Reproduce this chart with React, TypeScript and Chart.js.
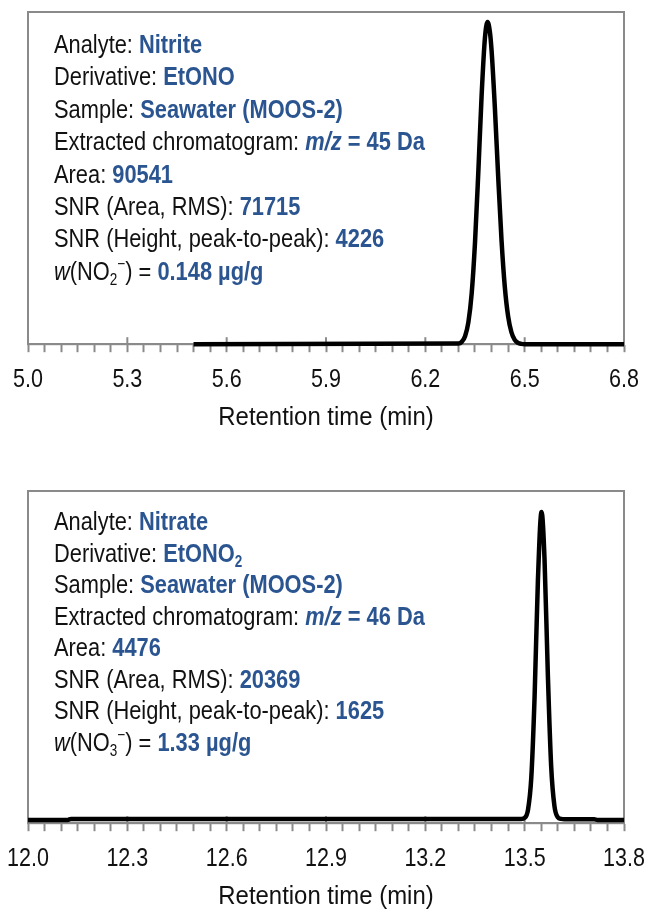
import React, { useEffect, useRef } from 'react';
import { Chart, registerables } from 'chart.js';

Chart.register(...registerables);

const FONT_FAMILY = '"Liberation Sans", Arial, sans-serif';
const GRAY = '#8a8a8a';
const BLUE = '#2b5591';
const INK = '#111111';

// ---- Top panel: nitrite (EtONO, m/z 45) ----
const TOP_TIME = [5.5, 6.3, 6.31, 6.32, 6.33, 6.34, 6.35, 6.36, 6.37, 6.38, 6.388, 6.395, 6.4, 6.41, 6.42, 6.43, 6.44, 6.45, 6.46, 6.47, 6.48, 6.49, 6.5, 6.8];
const TOP_SIGNAL = [0, 0.2, 0.7, 2.4, 6.6, 15.3, 30.6, 51.8, 74.9, 92.2, 97.0, 94.0, 88.5, 71.2, 50.5, 31.5, 17.3, 8.4, 3.6, 1.3, 0.4, 0.1, 0, 0];
const TOP_X_RANGE = [5.0, 6.8];
const TOP_TICK_LABELS = ['5.0', '5.3', '5.6', '5.9', '6.2', '6.5', '6.8'];

// ---- Bottom panel: nitrate (EtONO2, m/z 46) ----
const BOTTOM_TIME = [12.0, 12.12, 12.13, 13.49, 13.5, 13.51, 13.52, 13.53, 13.54, 13.551, 13.56, 13.57, 13.58, 13.59, 13.6, 13.61, 13.62, 13.71, 13.72, 13.8];
const BOTTOM_SIGNAL = [1.0, 1.0, 1.3, 1.3, 1.6, 4.0, 13.7, 38.1, 73.1, 93.7, 79.4, 44.8, 17.2, 5.1, 1.8, 1.3, 1.2, 1.2, 1.0, 1.0];
const BOTTOM_X_RANGE = [12.0, 13.8];
const BOTTOM_TICK_LABELS = ['12.0', '12.3', '12.6', '12.9', '13.2', '13.5', '13.8'];

const MINOR_PER_MAJOR = 6; // minor step 0.05 min, major step 0.3 min
const AXIS_TITLE = 'Retention time (min)';

type Seg = { t: string; blue?: boolean; bold?: boolean; italic?: boolean; sub?: boolean; sup?: boolean };

const TOP_NOTES: Seg[][] = [
  [{ t: 'Analyte: ' }, { t: 'Nitrite', blue: true, bold: true }],
  [{ t: 'Derivative: ' }, { t: 'EtONO', blue: true, bold: true }],
  [{ t: 'Sample: ' }, { t: 'Seawater (MOOS-2)', blue: true, bold: true }],
  [{ t: 'Extracted chromatogram: ' }, { t: 'm/z', blue: true, bold: true, italic: true }, { t: ' = 45 Da', blue: true, bold: true }],
  [{ t: 'Area: ' }, { t: '90541', blue: true, bold: true }],
  [{ t: 'SNR (Area, RMS): ' }, { t: '71715', blue: true, bold: true }],
  [{ t: 'SNR (Height, peak-to-peak): ' }, { t: '4226', blue: true, bold: true }],
  [{ t: 'w', italic: true }, { t: '(NO' }, { t: '2', sub: true }, { t: '\u2212', sup: true }, { t: ') = ' }, { t: '0.148 \u00b5g/g', blue: true, bold: true }],
];

const BOTTOM_NOTES: Seg[][] = [
  [{ t: 'Analyte: ' }, { t: 'Nitrate', blue: true, bold: true }],
  [{ t: 'Derivative: ' }, { t: 'EtONO', blue: true, bold: true }, { t: '2', blue: true, bold: true, sub: true }],
  [{ t: 'Sample: ' }, { t: 'Seawater (MOOS-2)', blue: true, bold: true }],
  [{ t: 'Extracted chromatogram: ' }, { t: 'm/z', blue: true, bold: true, italic: true }, { t: ' = 46 Da', blue: true, bold: true }],
  [{ t: 'Area: ' }, { t: '4476', blue: true, bold: true }],
  [{ t: 'SNR (Area, RMS): ' }, { t: '20369', blue: true, bold: true }],
  [{ t: 'SNR (Height, peak-to-peak): ' }, { t: '1625', blue: true, bold: true }],
  [{ t: 'w', italic: true }, { t: '(NO' }, { t: '3', sub: true }, { t: '\u2212', sup: true }, { t: ') = ' }, { t: '1.33 \u00b5g/g', blue: true, bold: true }],
];

const NOTE_SIZE = 26;
const NOTE_SQUEEZE = 0.84;
const TICK_SIZE = 25;
const TICK_SQUEEZE = 0.86;
const TITLE_SIZE = 26;
const TITLE_SQUEEZE = 0.92;

function squeezedText(ctx: CanvasRenderingContext2D, text: string, x: number, y: number, sx: number) {
  ctx.save();
  ctx.translate(x, y);
  ctx.scale(sx, 1);
  ctx.fillText(text, 0, 0);
  ctx.restore();
}

function drawNotes(ctx: CanvasRenderingContext2D, x0: number, y0: number, step: number, lines: Seg[][]) {
  ctx.save();
  ctx.textBaseline = 'alphabetic';
  ctx.textAlign = 'left';
  lines.forEach((segs, li) => {
    let x = x0;
    const y = y0 + li * step;
    segs.forEach((s) => {
      const small = s.sub || s.sup;
      const sz = small ? NOTE_SIZE * 0.62 : NOTE_SIZE;
      ctx.font = `${s.italic ? 'italic ' : ''}${s.bold ? 'bold ' : ''}${sz}px ${FONT_FAMILY}`;
      ctx.fillStyle = s.blue ? BLUE : INK;
      const dy = s.sub ? NOTE_SIZE * 0.2 : s.sup ? -NOTE_SIZE * 0.42 : 0;
      const w = ctx.measureText(s.t).width * NOTE_SQUEEZE;
      squeezedText(ctx, s.t, x, y + dy, NOTE_SQUEEZE);
      x += w;
    });
  });
  ctx.restore();
}

function makeChart(
  canvas: HTMLCanvasElement,
  time: number[],
  signal: number[],
  range: number[],
  tickLabels: string[],
  notes: Seg[][],
  padding: { left: number; right: number; top: number; bottom: number },
  noteOffset: number,
  noteStep: number
) {
  const nTicks = (tickLabels.length - 1) * MINOR_PER_MAJOR + 1;
  const minorStep = (range[1] - range[0]) / (nTicks - 1);

  const overlay = {
    id: 'frameAndNotes',
    beforeDatasetsDraw(chart: any) {
      const { ctx, chartArea: a } = chart;
      ctx.save();
      ctx.strokeStyle = GRAY;
      ctx.lineWidth = 2;
      ctx.strokeRect(a.left, a.top, a.right - a.left, a.bottom - a.top);
      const xs = chart.scales.x;
      xs.ticks.forEach((t: any, i: number) => {
        if (i % MINOR_PER_MAJOR === 0) {
          const px = xs.getPixelForValue(t.value);
          ctx.beginPath();
          ctx.moveTo(px, a.bottom);
          ctx.lineTo(px, a.bottom - 7);
          ctx.stroke();
        }
      });
      ctx.restore();
    },
    afterDraw(chart: any) {
      const { ctx, chartArea: a } = chart;
      const xs = chart.scales.x;
      ctx.save();
      ctx.fillStyle = INK;
      ctx.textAlign = 'center';
      ctx.textBaseline = 'alphabetic';
      ctx.font = `${TICK_SIZE}px ${FONT_FAMILY}`;
      xs.ticks.forEach((t: any, i: number) => {
        if (i % MINOR_PER_MAJOR === 0) {
          squeezedText(ctx, tickLabels[i / MINOR_PER_MAJOR], xs.getPixelForValue(t.value), a.bottom + 43, TICK_SQUEEZE);
        }
      });
      ctx.font = `${TITLE_SIZE}px ${FONT_FAMILY}`;
      squeezedText(ctx, AXIS_TITLE, (a.left + a.right) / 2, a.bottom + 81, TITLE_SQUEEZE);
      ctx.restore();
      drawNotes(ctx, a.left + 26, a.top + noteOffset, noteStep, notes);
    },
  };

  return new Chart(canvas, {
    type: 'line',
    data: {
      datasets: [
        {
          data: time.map((t, i) => ({ x: t, y: signal[i] })),
          borderColor: '#000000',
          borderWidth: 4.5,
          pointRadius: 0,
          cubicInterpolationMode: 'monotone',
          borderJoinStyle: 'round',
          fill: false,
          clip: false as any,
        },
      ],
    },
    options: {
      responsive: false,
      animation: false,
      devicePixelRatio: 1,
      layout: { padding },
      plugins: { legend: { display: false }, tooltip: { enabled: false } },
      scales: {
        x: {
          type: 'linear',
          min: range[0],
          max: range[1],
          border: { display: true, color: GRAY, width: 2 },
          grid: {
            display: true,
            drawOnChartArea: false,
            drawTicks: true,
            tickLength: 8,
            color: GRAY,
            tickColor: GRAY,
            tickWidth: 2,
          },
          afterBuildTicks: (scale: any) => {
            const ticks = [];
            for (let i = 0; i < nTicks; i++) ticks.push({ value: +(range[0] + i * minorStep).toFixed(4) });
            scale.ticks = ticks;
          },
          afterFit: (scale: any) => {
            scale.paddingLeft = 0;
            scale.paddingRight = 0;
          },
          ticks: {
            autoSkip: false,
            maxRotation: 0,
            minRotation: 0,
            padding: 10,
            color: 'rgba(0,0,0,0)',
            font: { family: FONT_FAMILY, size: TICK_SIZE },
            callback: (_v: any, i: number) => (i % MINOR_PER_MAJOR === 0 ? tickLabels[i / MINOR_PER_MAJOR] : ''),
          },
          title: {
            display: true,
            text: AXIS_TITLE,
            color: 'rgba(0,0,0,0)',
            font: { family: FONT_FAMILY, size: TITLE_SIZE, lineHeight: 1 },
            padding: { top: 0, bottom: 4 },
          },
        },
        y: { display: false, min: 0, max: 100 },
      },
    },
    plugins: [overlay],
  } as any);
}

export default function App() {
  const topRef = useRef<HTMLCanvasElement>(null);
  const bottomRef = useRef<HTMLCanvasElement>(null);

  useEffect(() => {
    document.body.style.margin = '0';
    const c1 = makeChart(
      topRef.current!, TOP_TIME, TOP_SIGNAL, TOP_X_RANGE, TOP_TICK_LABELS, TOP_NOTES,
      { left: 28, right: 24, top: 12, bottom: 17.8 }, 41, 32.4
    );
    const c2 = makeChart(
      bottomRef.current!, BOTTOM_TIME, BOTTOM_SIGNAL, BOTTOM_X_RANGE, BOTTOM_TICK_LABELS, BOTTOM_NOTES,
      { left: 28, right: 24, top: 41, bottom: 1.8 }, 39, 31.5
    );
    return () => {
      c1.destroy();
      c2.destroy();
    };
  }, []);

  return (
    <div style={{ position: 'relative', width: 648, height: 913, background: '#ffffff' }}>
      <canvas ref={topRef} width={648} height={450} style={{ position: 'absolute', left: 0, top: 0, width: 648, height: 450 }} />
      <canvas ref={bottomRef} width={648} height={463} style={{ position: 'absolute', left: 0, top: 450, width: 648, height: 463 }} />
    </div>
  );
}
